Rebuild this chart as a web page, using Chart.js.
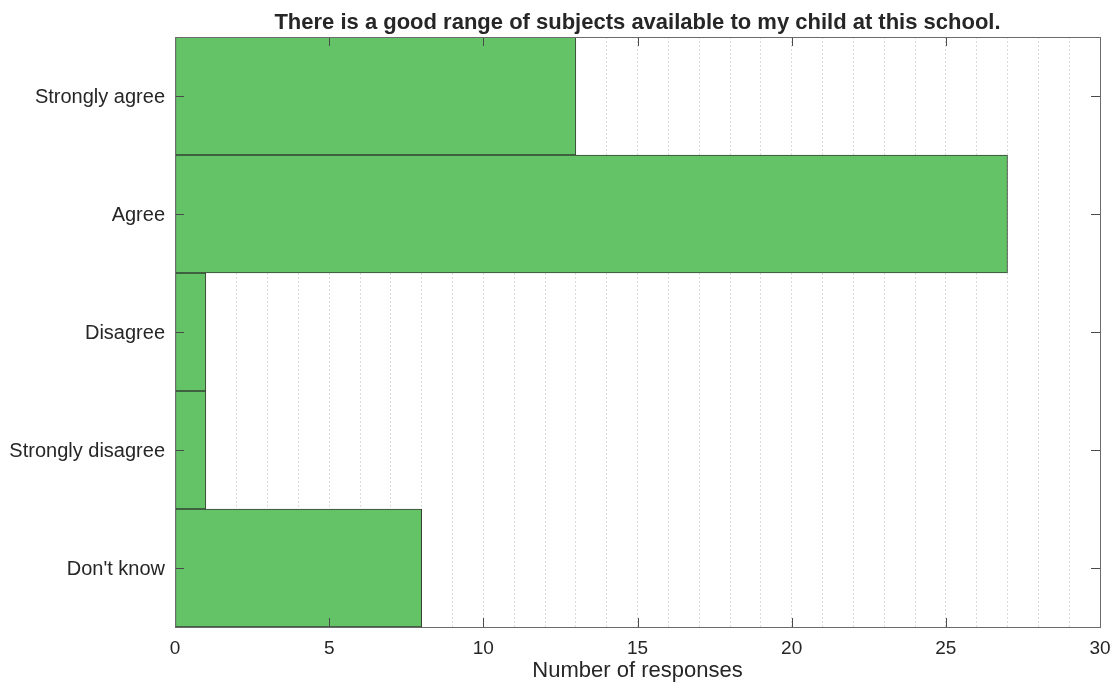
<!DOCTYPE html>
<html>
<head>
<meta charset="utf-8">
<title>Range of subjects</title>
<script src="https://cdn.jsdelivr.net/npm/chart.js@4.4.1/dist/chart.umd.min.js"></script>
<style>
    html, body { margin: 0; padding: 0; background: #fff; }
    #wrap { width: 1115px; height: 684px; }
</style>
</head>
<body>
<div id="wrap"><canvas id="barChart" width="1115" height="684"></canvas></div>
<script>
const categories = ['Strongly agree', 'Agree', 'Disagree', 'Strongly disagree', "Don't know"];
const responses = [13, 27, 1, 1, 8];
const xTickValues = [0, 5, 10, 15, 20, 25, 30];
const chartTitle = 'There is a good range of subjects available to my child at this school.';
const xAxisTitle = 'Number of responses';

Chart.defaults.font.family = "'Liberation Sans', Arial, Helvetica, sans-serif";
Chart.defaults.color = '#262626';

// matlab style box with inward ticks on all four sides
const boxPlugin = {
    id: 'boxTicks',
    afterDraw(chart) {
        const ctx = chart.ctx;
        const area = chart.chartArea;
        const x = chart.scales.x;
        const y = chart.scales.y;
        const len = 9;
        ctx.save();
        ctx.strokeStyle = '#4a4a4a';
        ctx.lineWidth = 1;
        ctx.beginPath();
        xTickValues.forEach(function (v) {
            const px = Math.round(x.getPixelForValue(v)) + 0.5;
            ctx.moveTo(px, area.bottom);
            ctx.lineTo(px, area.bottom - len);
            ctx.moveTo(px, area.top);
            ctx.lineTo(px, area.top + len);
        });
        categories.forEach(function (c, i) {
            const py = Math.round(y.getPixelForValue(i)) + 0.5;
            ctx.moveTo(area.left, py);
            ctx.lineTo(area.left + len, py);
            ctx.moveTo(area.right, py);
            ctx.lineTo(area.right - len, py);
        });
        ctx.stroke();
        ctx.strokeStyle = '#6b6b6b';
        ctx.strokeRect(Math.round(area.left) + 0.5, Math.round(area.top) + 0.5,
            Math.round(area.right - area.left), Math.round(area.bottom - area.top));
        ctx.restore();
    }
};

new Chart(document.getElementById('barChart'), {
    type: 'bar',
    data: {
        labels: categories,
        datasets: [
            {
                data: responses,
                backgroundColor: 'rgb(100, 195, 102)',
                borderColor: '#354235',
                borderWidth: 1,
                borderSkipped: false,
                barPercentage: 1,
                categoryPercentage: 1
            }
        ]
    },
    options: {
        indexAxis: 'y',
        responsive: false,
        animation: false,
        layout: {
            padding: { top: 0, left: 0, right: 15, bottom: 0 }
        },
        scales: {
            x: {
                min: 0,
                max: 30,
                z: 1,
                afterFit: function (scale) {
                    scale.height = 57;
                    scale.paddingLeft = 0;
                    scale.paddingRight = 0;
                },
                ticks: {
                    stepSize: 1,
                    autoSkip: false,
                    maxRotation: 0,
                    padding: 10,
                    font: { size: 19 },
                    callback: function (value) {
                        return xTickValues.includes(value) ? value : '';
                    }
                },
                grid: {
                    color: 'rgba(38, 38, 38, 0.16)',
                    lineWidth: 1,
                    drawTicks: false
                },
                border: { display: false, dash: [2, 2] },
                title: {
                    display: true,
                    text: xAxisTitle,
                    font: { size: 22 },
                    padding: { top: 0, bottom: 0 }
                }
            },
            y: {
                afterFit: function (scale) { scale.width = 175; },
                ticks: {
                    padding: 10,
                    labelOffset: 1.5,
                    font: { size: 20 }
                },
                grid: { display: false, drawTicks: false },
                border: { display: false }
            }
        },
        plugins: {
            legend: { display: false },
            tooltip: { enabled: false },
            title: {
                display: true,
                text: chartTitle,
                fullSize: false,
                color: '#262626',
                font: { size: 22, weight: 'bold' },
                padding: { top: 10, bottom: 0.6 }
            }
        }
    },
    plugins: [boxPlugin]
});
</script>
</body>
</html>
